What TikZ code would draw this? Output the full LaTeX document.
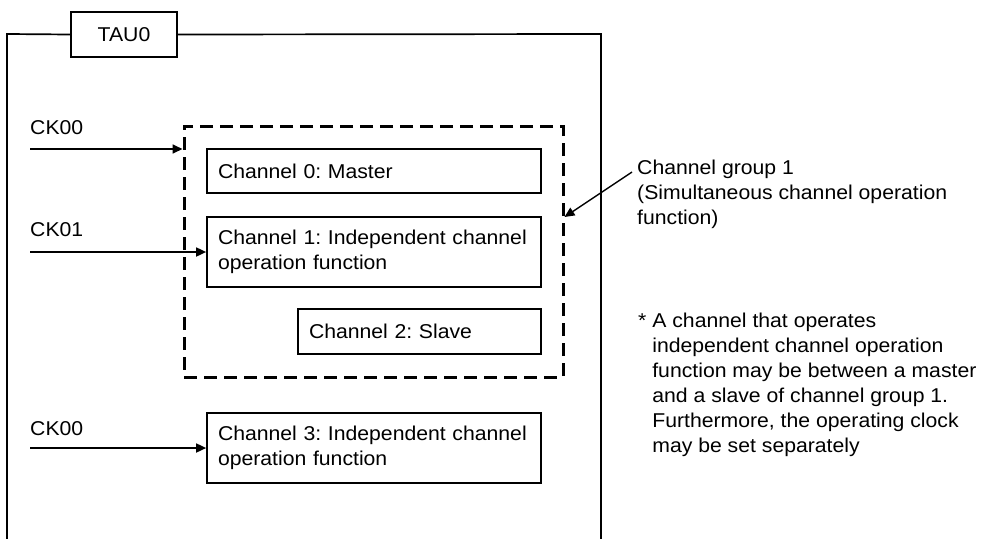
\documentclass[tikz,border=0pt]{standalone}
\usepackage{fontspec}
\setmainfont{Liberation Sans}[FakeStretch=1.06]
\usetikzlibrary{arrows.meta}
\begin{document}
\frenchspacing
\begin{tikzpicture}[x=1pt,y=-1pt,
  every node/.style={font=\fontsize{20}{25}\selectfont},
  frame/.style={line width=1.7pt},
  chbox/.style={draw, line width=1.7pt, inner ysep=0pt, inner xsep=11pt, align=left},
  lbl/.style={inner sep=0pt, anchor=base west},
  arr/.style={line width=1.7pt, -{Triangle[length=10pt,width=9pt]}},
  grpbox/.style={draw, line width=3pt, dash pattern=on 13pt off 7pt, inner sep=0pt}]
\useasboundingbox (0,0) rectangle (981,538);
% outer frame with title
\node[draw, line width=1.7pt, minimum width=106pt, minimum height=45pt, inner sep=0pt] (tau) at (124,34.5) {TAU0};
\draw[frame] (7,545) -- (7,34) -- (tau.west);
\draw[frame] (tau.east) -- (601,34) -- (601,545);
% channel group (dashed)
\node[grpbox, minimum width=379pt, minimum height=251pt] (grp) at (373.5,251.5) {};
% channel boxes
\node[chbox, text width=312pt, minimum height=44pt] (ch0) at (374,171) {Channel 0: Master};
\node[chbox, text width=312pt, minimum height=70pt] (ch1) at (374,252) {\mbox{Channel 1: Independent channel}\\operation function};
\node[chbox, text width=221pt, minimum height=45pt] (ch2) at (419.5,331.5) {Channel 2: Slave};
\node[chbox, text width=312pt, minimum height=70pt] (ch3) at (374,448) {\mbox{Channel 3: Independent channel}\\operation function};
% clock labels and arrows
\node[lbl] (ck0) at (30,134) {CK00};
\node[lbl] (ck1) at (30,236.5) {CK01};
\node[lbl] (ck3) at (30,435) {CK00};
\coordinate (s0) at (30,149);
\coordinate (s1) at (30,252);
\coordinate (s3) at (30,448);
\draw[arr] (s0) -- (s0 -| grp.west);
\draw[arr] (s1) -- (ch1.west);
\draw[arr] (s3) -- (ch3.west);
% channel group annotation
\node[inner sep=0pt, anchor=north west, align=left] (gtxt) at (637,159.5) {Channel group 1\\(Simultaneous channel operation\\function)};
\coordinate (lead) at (632,172);
\coordinate (tipy) at (0,217);
\draw[arr, line width=1.4pt] (lead) -- (grp.east |- tipy);
% note
\node[inner sep=0pt, anchor=north west, align=left] (note) at (638,312.5) {* A channel that operates\\\hphantom{*\ }independent channel operation\\\hphantom{*\ }function may be between a master\\\hphantom{*\ }and a slave of channel group 1.\\\hphantom{*\ }Furthermore, the operating clock\\\hphantom{*\ }may be set separately};
\end{tikzpicture}
\end{document}
